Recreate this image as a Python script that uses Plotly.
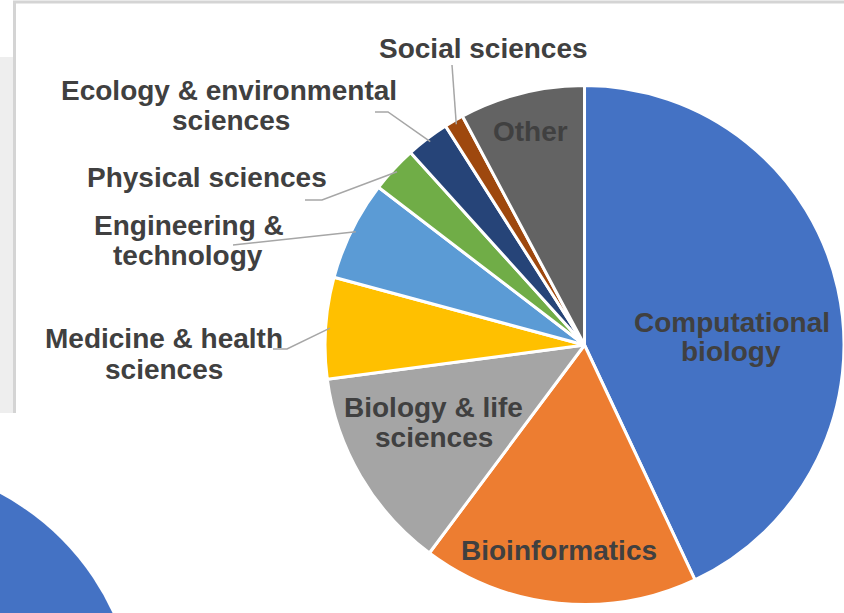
import plotly.graph_objects as go
import math

# ---- data ----
categories = ["Computational biology", "Bioinformatics", "Biology & life sciences",
              "Medicine & health sciences", "Engineering & technology",
              "Physical sciences", "Ecology & environmental sciences",
              "Social sciences", "Other"]
shares = [43.0, 17.2, 12.7, 6.3, 6.2, 2.9, 2.7, 1.2, 7.8]
colors = ["#4472C4", "#ED7D31", "#A5A5A5", "#FFC000", "#5B9BD5",
          "#70AD47", "#264478", "#9E480E", "#636363"]

W, H = 844, 613
CX, CY = 585, 345          # pie centre (px)
XD = [0.3851, 1.0]
R = (XD[1] - XD[0]) * W / 2  # pie radius in px

def px(x):
    return x / W

def py(y):
    return 1 - y / H

fig = go.Figure(go.Pie(
    labels=categories, values=shares, sort=False, direction="clockwise",
    rotation=0, textinfo="none", hoverinfo="label+percent",
    marker=dict(colors=colors, line=dict(color="white", width=3)),
    domain=dict(x=XD, y=[py(CY) - R / H, py(CY) + R / H]),
    showlegend=False,
))

# slice mid angles (degrees clockwise from 12 o'clock), from the data
total = sum(shares)
mids = {}
acc = 0.0
for c, v in zip(categories, shares):
    mids[c] = (acc + v / 2) / total * 360
    acc += v

def edge(cat, f=0.985):
    a = math.radians(mids[cat])
    return CX + f * R * math.sin(a), CY - f * R * math.cos(a)

shapes = []
# background artefacts of the slide
shapes.append(dict(type="rect", xref="paper", yref="paper", x0=px(0), x1=px(13),
                   y0=py(413), y1=py(57), fillcolor="#eeeeee", line=dict(width=0), layer="below"))
shapes.append(dict(type="line", xref="paper", yref="paper", x0=px(13), x1=px(844),
                   y0=py(2), y1=py(2), line=dict(color="#d4d4d4", width=3), layer="below"))
shapes.append(dict(type="line", xref="paper", yref="paper", x0=px(14.5), x1=px(14.5),
                   y0=py(1), y1=py(413), line=dict(color="#d4d4d4", width=3), layer="below"))
shapes.append(dict(type="circle", xref="paper", yref="paper",
                   x0=px(-120 - 256), x1=px(-120 + 256), y0=py(720 + 256), y1=py(720 - 256),
                   fillcolor="#4472C4", line=dict(width=0), layer="below"))

# leader lines: elbow points (px) -> slice edge from data
leaders = {
    "Social sciences": [(452, 65)],
    "Ecology & environmental sciences": [(375, 112), (388, 112)],
    "Physical sciences": [(305, 200), (322, 200)],
    "Engineering & technology": [(233, 245)],
    "Medicine & health sciences": [(273, 349), (287, 349)],
}
for cat, pts in leaders.items():
    ex, ey = edge(cat)
    allp = pts + [(ex, ey)]
    path = "M " + " L ".join(f"{px(x):.5f},{py(y):.5f}" for x, y in allp)
    shapes.append(dict(type="path", xref="paper", yref="paper", path=path,
                       line=dict(color="#a6a6a6", width=1.5)))

# label lines (text, x centre px, y centre px)
label_lines = [
    ("Social sciences", 483, 47),
    ("Ecology & environmental", 229, 88),
    ("sciences", 231, 118),
    ("Physical sciences", 207, 175),
    ("Engineering &", 189, 223),
    ("technology", 188, 253),
    ("Medicine & health", 164, 337),
    ("sciences", 164, 367),
    ("Computational", 732, 320),
    ("biology", 731, 350),
    ("Bioinformatics", 559, 548),
    ("Biology & life", 433, 405),
    ("sciences", 434, 435),
    ("Other", 530, 129),
]
annotations = []
for t, x, y in label_lines:
    annotations.append(dict(text=f"<b>{t}</b>", x=px(x), y=py(y + 2), xref="paper", yref="paper",
                            xanchor="center", yanchor="middle", showarrow=False,
                            font=dict(family="Liberation Sans, Arial, sans-serif", size=28,
                                      color="#404040")))

fig.update_layout(
    width=W, height=H, margin=dict(l=0, r=0, t=0, b=0),
    paper_bgcolor="white", plot_bgcolor="white",
    shapes=shapes, annotations=annotations,
)
fig.write_html("out.html", config={"displayModeBar": False},
               post_script="document.body.style.margin='0';document.body.style.overflow='hidden';")
